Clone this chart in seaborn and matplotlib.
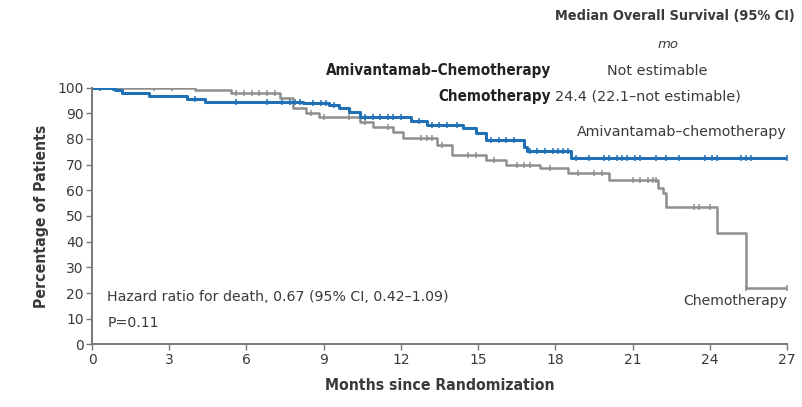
import numpy as np
import pandas as pd
import matplotlib
matplotlib.use("Agg")
import matplotlib.pyplot as plt
import seaborn as sns

# Kaplan-Meier step estimates (months, percent surviving)
ami_times = [0, 0.9, 1.15, 2.2, 3.7, 4.4, 8.2, 9.2, 9.6, 10.0, 10.4, 12.4, 13.0, 14.4, 14.9, 15.3, 16.8, 16.9, 18.6, 27.0]
ami_surv = [100, 99.0, 97.7, 96.6, 95.6, 94.5, 93.8, 93.0, 92.0, 90.5, 88.6, 87.0, 85.4, 84.1, 82.2, 79.6, 77.0, 75.2, 72.4, 72.4]

chemo_times = [0, 4.0, 5.4, 7.3, 7.8, 8.3, 8.8, 10.4, 10.9, 11.7, 12.1, 13.4, 14.0, 15.3, 16.1, 17.4, 18.5, 20.1, 22.0, 22.2, 22.3, 24.3, 25.4, 27.0]
chemo_surv = [100, 99.0, 97.8, 95.8, 92.0, 90.0, 88.6, 86.7, 84.7, 82.8, 80.2, 77.6, 73.7, 71.8, 69.9, 68.6, 66.6, 64.2, 61.0, 59.0, 53.6, 43.3, 21.8, 21.8]

# Censoring times (months)
ami_censor = [0.3, 0.8, 4.0, 5.6, 6.8, 7.4, 7.7, 7.9, 8.1, 8.6, 8.9, 9.1, 9.4, 10.6, 10.9, 11.2, 11.5, 11.7,
              12.0, 12.7, 13.2, 13.5, 13.8, 14.2, 15.5, 15.8, 16.1, 16.4, 17.0, 17.3, 17.6, 17.9, 18.1, 18.3,
              18.5, 18.8, 19.3, 19.9, 20.1, 20.4, 20.6, 20.8, 21.1, 21.3, 21.9, 22.3, 22.8, 23.8, 24.1, 24.3,
              25.2, 25.4, 25.6, 27.0]
chemo_censor = [2.4, 3.1, 5.6, 5.9, 6.2, 6.5, 6.8, 7.1, 8.5, 9.0, 10.0, 10.6, 11.5, 12.8, 13.0, 13.2, 13.6,
                14.6, 14.9, 15.6, 16.5, 16.8, 17.0, 17.8, 18.9, 19.5, 19.8, 21.0, 21.3, 21.6, 21.8, 21.9,
                23.4, 23.6, 24.0, 25.4, 27.0]

x_ticks = [0, 3, 6, 9, 12, 15, 18, 21, 24, 27]
y_ticks = [0, 10, 20, 30, 40, 50, 60, 70, 80, 90, 100]

BLUE = "#1f70b4"
GRAY = "#8e8e8e"
TXT = "#3a3a3a"
BOLD = dict(fontweight="bold", fontstretch="condensed")

sns.set_theme(style="white")
plt.rcParams["font.family"] = ["DejaVu Sans"]

fig = plt.figure(figsize=(8.03, 4.07), dpi=100)
ax = fig.add_axes([0.1146, 0.1536, 0.8654, 0.6314])

curves = pd.concat([
    pd.DataFrame({"month": chemo_times, "pct": chemo_surv, "arm": "Chemotherapy"}),
    pd.DataFrame({"month": ami_times, "pct": ami_surv, "arm": "Amivantamab–chemotherapy"}),
])
sns.lineplot(data=curves, x="month", y="pct", hue="arm",
             palette={"Chemotherapy": GRAY, "Amivantamab–chemotherapy": BLUE},
             size="arm", sizes={"Chemotherapy": 1.8, "Amivantamab–chemotherapy": 2.2},
             drawstyle="steps-post", legend=False, ax=ax, estimator=None, sort=False)


def step_value(times, surv, t):
    idx = np.searchsorted(times, t, side="right") - 1
    return np.asarray(surv)[idx]


for times, surv, cens, col in [(chemo_times, chemo_surv, chemo_censor, GRAY),
                               (ami_times, ami_surv, ami_censor, BLUE)]:
    cy = [step_value(times, surv, t) for t in cens]
    sns.scatterplot(x=cens, y=cy, marker="|", s=16, color=col, linewidth=1.1, ax=ax)

ax.set_xlim(0, 27)
ax.set_ylim(0, 100)
ax.set_xticks(x_ticks)
ax.set_yticks(y_ticks)
ax.set_xticklabels([str(t) for t in x_ticks], fontsize=10, color=TXT)
ax.set_yticklabels([str(t) for t in y_ticks], fontsize=10, color=TXT)
ax.tick_params(axis="both", direction="out", length=4, width=1, color="#777777", pad=2,
               bottom=True, left=True)
for side in ["top", "right"]:
    ax.spines[side].set_visible(False)
for side in ["left", "bottom"]:
    ax.spines[side].set_color("#777777")
    ax.spines[side].set_linewidth(1.4)
ax.set_xlabel("Months since Randomization", fontsize=11.3, color=TXT, labelpad=8, **BOLD)
ax.set_ylabel("Percentage of Patients", fontsize=11.3, color=TXT, labelpad=6, **BOLD)

ax.text(0.6, 18.5, "Hazard ratio for death, 0.67 (95% CI, 0.42–1.09)", fontsize=10.2, color=TXT, va="center")
ax.text(0.6, 8.5, "P=0.11", fontsize=10.2, color=TXT, va="center")
ax.text(27, 82.5, "Amivantamab–chemotherapy", fontsize=10.2, color=TXT, ha="right", va="center")
ax.text(27, 17, "Chemotherapy", fontsize=10.1, color=TXT, ha="right", va="center")

# Header table of median overall survival
fig.text(795 / 803, 1 - 16 / 407, "Median Overall Survival (95% CI)", fontsize=10.4,
         color=TXT, ha="right", va="center", **BOLD)
fig.text(668 / 803, 1 - 45 / 407, "mo", fontsize=9.5, style="italic", color=TXT, ha="center", va="center")
fig.text(551 / 803, 1 - 71 / 407, "Amivantamab–Chemotherapy", fontsize=10.9,
         color="#222222", ha="right", va="center", **BOLD)
fig.text(657 / 803, 1 - 71 / 407, "Not estimable", fontsize=10.4, color=TXT, ha="center", va="center")
fig.text(551 / 803, 1 - 96 / 407, "Chemotherapy", fontsize=10.9,
         color="#222222", ha="right", va="center", **BOLD)
fig.text(555 / 803, 1 - 96 / 407, "24.4 (22.1–not estimable)", fontsize=10.4, color=TXT,
         ha="left", va="center")

fig.savefig("out.png", dpi=100)
